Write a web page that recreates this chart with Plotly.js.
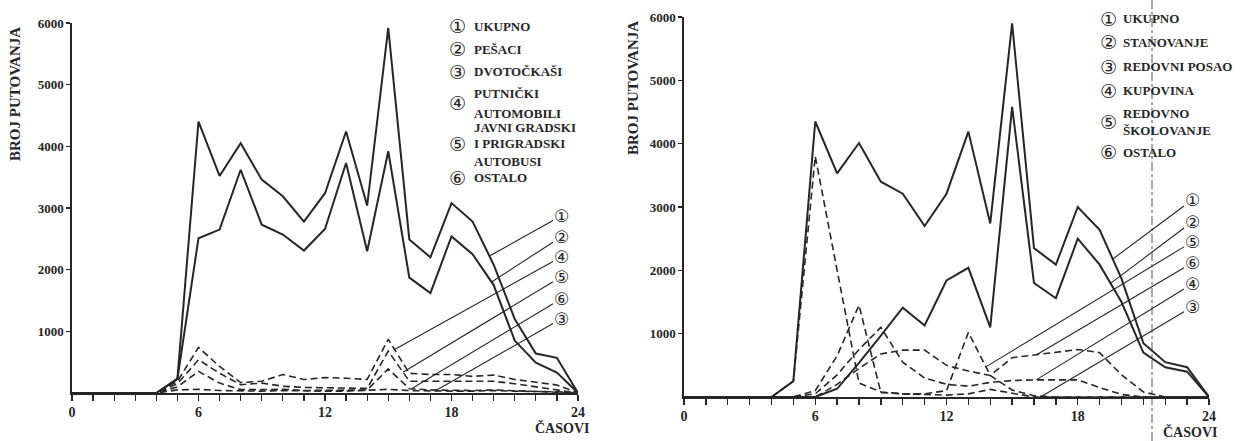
<!DOCTYPE html>
<html><head><meta charset="utf-8">
<script src="https://cdn.plot.ly/plotly-3.0.1.min.js"></script>
<style>html,body{margin:0;padding:0;background:#fff}#chart{width:1248px;height:441px}</style>
</head><body><div id="chart"></div>
<script>
// ---------- DATA ----------
const HOURS = [0,1,2,3,4,5,6,7,8,9,10,11,12,13,14,15,16,17,18,19,20,21,22,23,24];
const X_TICKS = [0,6,12,18,24];
const Y_TICKS = [1000,2000,3000,4000,5000,6000];

// Left chart: by mode of travel
const L_UKUPNO  = [0,0,0,0,0,230,4400,3520,4050,3460,3190,2780,3240,4240,3040,5920,2490,2200,3080,2780,2080,1200,640,570,0];
const L_PESACI  = [0,0,0,0,0,230,2510,2650,3620,2730,2570,2310,2660,3730,2300,3920,1870,1620,2540,2250,1750,850,490,330,0];
const L_DVOT    = [0,0,0,0,0,50,60,40,30,30,40,30,30,30,40,60,40,30,30,30,40,30,30,20,0];
const L_AUTO    = [0,0,0,0,0,190,740,430,170,190,300,220,250,240,220,870,320,300,300,270,290,220,170,130,0];
const L_BUS     = [0,0,0,0,0,150,540,320,135,160,110,90,90,80,75,680,190,190,200,200,190,150,100,60,0];
const L_OSTALO  = [0,0,0,0,0,100,350,160,55,55,60,40,40,40,50,390,70,50,40,40,50,40,30,20,0];

// Right chart: by purpose of travel
const R_UKUPNO   = [0,0,0,0,0,250,4350,3530,4010,3400,3210,2700,3210,4190,2740,5900,2350,2090,3000,2640,1870,850,550,470,0];
const R_STAN     = [0,0,0,0,0,0,0,130,540,970,1410,1130,1840,2040,1100,4580,1800,1560,2500,2090,1500,700,470,400,0];
const R_POSAO    = [0,0,0,0,0,250,3800,2000,220,80,50,40,30,50,120,60,0,0,0,0,0,0,0,0,0];
const R_KUPOVINA = [0,0,0,0,0,0,50,350,750,1100,550,300,200,170,230,260,270,270,270,150,40,0,0,0,0];
const R_SKOLA    = [0,0,0,0,0,0,100,650,1450,70,50,50,100,1020,340,110,20,0,0,0,0,0,0,0,0];
const R_OSTALO   = [0,0,0,0,0,0,0,200,450,680,740,740,500,410,340,620,660,700,750,700,350,80,0,0,0];

// ---------- LAYOUT HELPERS ----------
const W = 1248, H = 441;
const fx = px => px / W;
const fy = py => 1 - py / H;
const LEFT  = {x0:72,  x1:578,  y0:393, y1:23};
const RIGHT = {x0:684, x1:1209, y0:397, y1:17};
const toData = (f, px, py) => [(px - f.x0) / (f.x1 - f.x0) * 24, (f.y0 - py) / (f.y0 - f.y1) * 6000];
function interp(xs, ys, x) {
  for (let i = 0; i < xs.length - 1; i++) {
    if (x >= xs[i] && x <= xs[i+1]) {
      const t = (x - xs[i]) / (xs[i+1] - xs[i]);
      return ys[i] + t * (ys[i+1] - ys[i]);
    }
  }
  return ys[ys.length - 1];
}

const INK = '#262626';
const SERIF = '"Liberation Serif", "DejaVu Serif", serif';
const CIRC = '"DejaVu Sans", sans-serif';

function solid(y, xa, ya) {
  return {x: HOURS, y: y, xaxis: xa, yaxis: ya, mode: 'lines', line: {color: INK, width: 2}, hoverinfo: 'skip'};
}
function dashed(y, xa, ya) {
  return {x: HOURS, y: y, xaxis: xa, yaxis: ya, mode: 'lines', line: {color: INK, width: 1.6, dash: '7px,4px'}, hoverinfo: 'skip'};
}

const traces = [
  dashed(L_DVOT, 'x', 'y'), dashed(L_OSTALO, 'x', 'y'), dashed(L_BUS, 'x', 'y'), dashed(L_AUTO, 'x', 'y'),
  solid(L_PESACI, 'x', 'y'), solid(L_UKUPNO, 'x', 'y'),
  dashed(R_POSAO, 'x2', 'y2'), dashed(R_KUPOVINA, 'x2', 'y2'), dashed(R_SKOLA, 'x2', 'y2'), dashed(R_OSTALO, 'x2', 'y2'),
  solid(R_STAN, 'x2', 'y2'), solid(R_UKUPNO, 'x2', 'y2')
];

function xAxis(f, anchor) {
  return {
    domain: [fx(f.x0), fx(f.x1)], range: [0, 24], anchor: anchor,
    tickmode: 'array', tickvals: X_TICKS, ticks: 'outside', ticklen: 6, tickwidth: 1.3, tickcolor: INK,
    minor: {tick0: 0, dtick: 1, ticks: 'outside', ticklen: 6, tickwidth: 1.3, tickcolor: INK, showgrid: false},
    showline: true, linecolor: INK, linewidth: 1.6, showgrid: false, zeroline: false,
    tickfont: {family: SERIF, size: 14, color: INK, weight: 'bold'}, fixedrange: true
  };
}
function yAxis(f, anchor) {
  return {
    domain: [fy(f.y0), fy(f.y1)], range: [0, 6000], anchor: anchor,
    tickmode: 'array', tickvals: Y_TICKS, ticks: 'outside', ticklen: 4, tickwidth: 1.3, tickcolor: INK,
    showline: true, linecolor: INK, linewidth: 1.6, showgrid: false, zeroline: false,
    tickfont: {family: SERIF, size: 13, color: INK, weight: 'bold'}, fixedrange: true
  };
}

const ann = [];
function txt(px, py, text, opts) {
  ann.push(Object.assign({xref: 'paper', yref: 'paper', x: fx(px), y: fy(py), text: text, showarrow: false,
    xanchor: 'left', yanchor: 'middle', font: {family: SERIF, size: 13, color: INK, weight: 'bold'}}, opts || {}));
}
function circ(px, py, n) {
  txt(px, py, n, {xanchor: 'center', font: {family: CIRC, size: 19, color: INK}});
}
function leader(f, xa, ya, px, py, n, xs, ys, hour) {
  const [ax, ay] = toData(f, px, py);
  ann.push({xref: xa, yref: ya, axref: xa, ayref: ya, x: hour, y: interp(xs, ys, hour), ax: ax, ay: ay,
    text: n, showarrow: true, arrowhead: 0, arrowwidth: 1.1, arrowcolor: INK, standoff: 0, borderpad: 0,
    font: {family: CIRC, size: 17, color: INK}});
}

// Left legend
const LCX = 458, LTX = 472;
circ(LCX, 26, '①'); txt(LTX, 26, 'UKUPNO');
circ(LCX, 49, '②'); txt(LTX, 49, 'PEŠACI');
circ(LCX, 72, '③'); txt(LTX, 72, 'DVOTOČKAŠI');
circ(LCX, 103, '④'); txt(LTX, 93, 'PUTNIČKI'); txt(LTX, 113, 'AUTOMOBILI');
txt(LTX, 127, 'JAVNI GRADSKI');
circ(LCX, 144, '⑤'); txt(LTX, 144, 'I PRIGRADSKI');
txt(LTX, 161, 'AUTOBUSI');
circ(LCX, 178, '⑥'); txt(LTX, 178, 'OSTALO');

// Right legend
const RCX = 1108, RTX = 1121;
circ(RCX, 19, '①'); txt(RTX, 19, 'UKUPNO');
circ(RCX, 42, '②'); txt(RTX, 42, 'STANOVANJE');
circ(RCX, 67, '③'); txt(RTX, 67, 'REDOVNI POSAO');
circ(RCX, 91, '④'); txt(RTX, 91, 'KUPOVINA');
circ(RCX, 122, '⑤'); txt(RTX, 113, 'REDOVNO'); txt(RTX, 131, 'ŠKOLOVANJE');
circ(RCX, 152, '⑥'); txt(RTX, 152, 'OSTALO');

// Axis titles
txt(15, 94, 'BROJ PUTOVANJA', {xanchor: 'center', textangle: -90, font: {family: SERIF, size: 15, color: INK, weight: 'bold'}});
txt(633, 88, 'BROJ PUTOVANJA', {xanchor: 'center', textangle: -90, font: {family: SERIF, size: 15, color: INK, weight: 'bold'}});
txt(562, 428, 'ČASOVI', {xanchor: 'center', font: {family: SERIF, size: 14, color: INK, weight: 'bold'}});
txt(1190, 432, 'ČASOVI', {xanchor: 'center', font: {family: SERIF, size: 14, color: INK, weight: 'bold'}});

// Leader lines (left)
leader(LEFT, 'x', 'y', 561, 216, '①', HOURS, L_UKUPNO, 19.8);
leader(LEFT, 'x', 'y', 561, 237, '②', HOURS, L_PESACI, 19.9);
leader(LEFT, 'x', 'y', 561, 257, '④', HOURS, L_AUTO, 15.3);
leader(LEFT, 'x', 'y', 561, 277, '⑤', HOURS, L_BUS, 15.7);
leader(LEFT, 'x', 'y', 561, 299, '⑥', HOURS, L_OSTALO, 16.1);
leader(LEFT, 'x', 'y', 561, 319, '③', HOURS, L_DVOT, 17.2);
// Leader lines (right)
leader(RIGHT, 'x2', 'y2', 1192, 200, '①', HOURS, R_UKUPNO, 19.6);
leader(RIGHT, 'x2', 'y2', 1192, 222, '②', HOURS, R_STAN, 19.5);
leader(RIGHT, 'x2', 'y2', 1192, 242, '⑤', HOURS, R_SKOLA, 13.8);
leader(RIGHT, 'x2', 'y2', 1192, 263, '⑥', HOURS, R_OSTALO, 16.1);
leader(RIGHT, 'x2', 'y2', 1192, 284, '④', HOURS, R_KUPOVINA, 16.1);
leader(RIGHT, 'x2', 'y2', 1192, 307, '③', HOURS, R_POSAO, 16.3);

const layout = {
  width: W, height: H, margin: {l: 0, r: 0, t: 0, b: 0},
  paper_bgcolor: '#ffffff', plot_bgcolor: 'rgba(0,0,0,0)', showlegend: false,
  xaxis: xAxis(LEFT, 'y'), yaxis: yAxis(LEFT, 'x'),
  xaxis2: xAxis(RIGHT, 'y2'), yaxis2: yAxis(RIGHT, 'x2'),
  annotations: ann,
  shapes: [
    {type: 'line', xref: 'paper', yref: 'paper', x0: fx(1152), x1: fx(1152), y0: 0, y1: 1,
     line: {color: '#555', width: 1, dash: 'dashdot'}, layer: 'below'}
  ]
};
Plotly.newPlot('chart', traces, layout, {displayModeBar: false, staticPlot: true});
</script></body></html>
